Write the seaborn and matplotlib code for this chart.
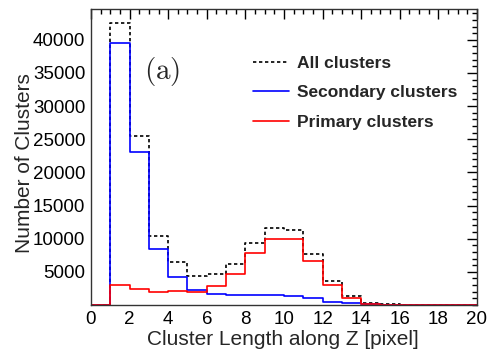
import numpy as np
import pandas as pd
import matplotlib
matplotlib.use("Agg")
import matplotlib.pyplot as plt
import seaborn as sns
from matplotlib.ticker import MultipleLocator

# ---- data (bin contents, 1-pixel bins from 0 to 20) ----
bin_edges = list(range(0, 21))
all_clusters = [0, 42500, 25500, 10400, 6450, 4380, 4680, 6250, 9400, 11600,
                11300, 7650, 3650, 1350, 320, 120, 60, 30, 20, 10]
secondary_clusters = [0, 39500, 23100, 8400, 4220, 2260, 1710, 1560, 1460, 1510,
                      1360, 1000, 500, 250, 180, 60, 30, 20, 10, 5]
primary_clusters = [0, 3000, 2380, 1960, 2160, 2010, 2820, 4680, 7900, 10000,
                    9900, 6640, 3020, 1000, 130, 50, 20, 10, 5, 2]
labels = ["All clusters", "Secondary clusters", "Primary clusters"]
yticks = [5000, 10000, 15000, 20000, 25000, 30000, 35000, 40000]
xticks = [0, 2, 4, 6, 8, 10, 12, 14, 16, 18, 20]

sns.set_style("white")
plt.rcParams['font.family'] = ['Liberation Sans', 'DejaVu Sans']
plt.rcParams['mathtext.fontset'] = 'cm'

fig = plt.figure(figsize=(4.89, 3.51), dpi=100)
ax = fig.add_axes([91/489, 46/351, 386/489, 296/351])

centers = [e + 0.5 for e in bin_edges[:-1]]
styles = [
    (all_clusters, "black", (0, (2.0, 1.6))),
    (secondary_clusters, "#0000ff", "-"),
    (primary_clusters, "#ff0000", "-"),
]
handles = []
for vals, col, ls in styles:
    df = pd.DataFrame({"x": centers, "w": vals})
    sns.histplot(data=df, x="x", weights="w", bins=bin_edges, element="step",
                 fill=False, color=col, linewidth=1.2, linestyle=ls, ax=ax)
for (vals, col, ls), lab in zip(styles, labels):
    h, = ax.plot([], [], color=col, linestyle=ls, linewidth=1.2, label=lab)
    handles.append(h)

ax.set_xlim(0, 20)
ax.set_ylim(0, 44650)
ax.set_xticks(xticks)
ax.set_yticks(yticks)
ax.xaxis.set_minor_locator(MultipleLocator(0.5))
ax.yaxis.set_minor_locator(MultipleLocator(1000))
ax.tick_params(which='both', direction='in', top=True, right=True,
               labelsize=13.5, colors='black')
ax.tick_params(axis='y', pad=4)
ax.tick_params(axis='x', pad=4)
ax.tick_params(which='major', length=7, width=1)
ax.tick_params(which='minor', length=3.5, width=1)
for s in ax.spines.values():
    s.set_color('#333333')
    s.set_linewidth(1)

ax.set_xlabel("Cluster Length along Z [pixel]", fontsize=15)
ax.set_ylabel("Number of Clusters", fontsize=15)
ax.xaxis.set_label_coords(0.496, -0.085)
ax.yaxis.set_label_coords(-0.148, 0.478)

ax.text(0.185, 0.79, r"$\mathrm{(a)}$", transform=ax.transAxes, fontsize=21,
        ha='center', va='center')

leg = ax.legend(handles=handles, loc='center left', bbox_to_anchor=(0.419, 0.717),
                frameon=False, borderpad=0, borderaxespad=0, handlelength=2.07,
                handletextpad=0.5, labelspacing=0.82,
                prop={'weight': 'bold', 'size': 12.5})

fig.savefig("out.png", dpi=100)
